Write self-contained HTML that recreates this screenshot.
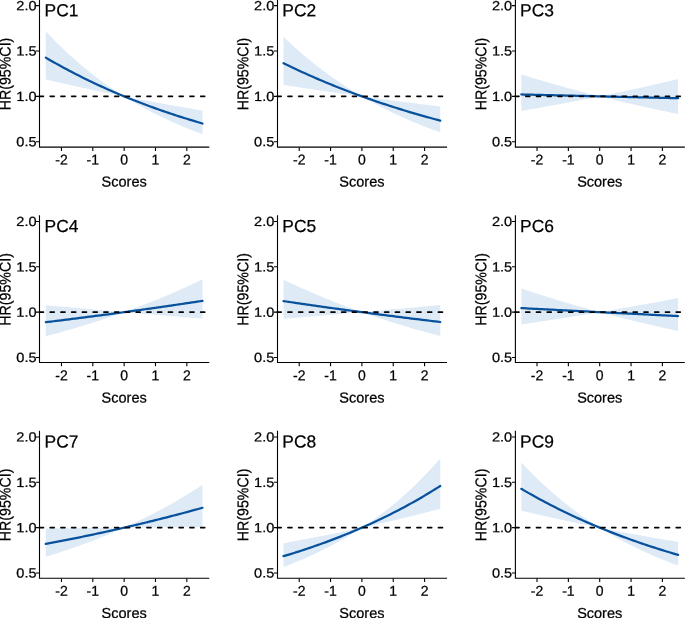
<!DOCTYPE html>
<html><head><meta charset="utf-8"><title>HR plots</title><style>
html,body{margin:0;padding:0;background:#fff;width:685px;height:618px;overflow:hidden}
svg{display:block;font-family:"Liberation Sans",sans-serif;will-change:transform}
text{fill:#000;stroke:#000;stroke-width:0.25px;font-kerning:none}
</style></head><body>
<svg width="685" height="618" viewBox="0 0 685 618">
<g fill="#000" stroke="none">
<polygon points="45.8,31.33 48.41,34.11 51.02,36.84 53.64,39.52 56.25,42.16 58.86,44.74 61.47,47.29 64.08,49.78 66.69,52.23 69.31,54.64 71.92,57 74.53,59.33 77.14,61.61 79.75,63.85 82.36,66.05 84.98,68.21 87.59,70.33 90.2,72.41 92.81,74.46 95.42,76.47 98.03,78.44 100.65,80.38 103.26,82.29 105.87,84.16 108.48,86 111.09,87.8 113.7,89.57 116.32,91.31 118.93,93.02 121.54,94.7 124.15,96.35 126.76,96.86 129.37,97.38 131.99,97.88 134.6,98.39 137.21,98.89 139.82,99.39 142.43,99.89 145.04,100.38 147.66,100.87 150.27,101.36 152.88,101.85 155.49,102.33 158.1,102.81 160.71,103.29 163.32,103.76 165.94,104.23 168.55,104.7 171.16,105.17 173.77,105.63 176.38,106.1 179,106.55 181.61,107.01 184.22,107.46 186.83,107.91 189.44,108.36 192.05,108.81 194.67,109.25 197.28,109.69 199.89,110.13 202.5,110.57 202.5,134.22 199.89,133.26 197.28,132.28 194.67,131.29 192.05,130.27 189.44,129.24 186.83,128.19 184.22,127.12 181.61,126.03 179,124.92 176.38,123.79 173.77,122.64 171.16,121.47 168.55,120.28 165.94,119.06 163.32,117.83 160.71,116.57 158.1,115.29 155.49,113.98 152.88,112.66 150.27,111.3 147.66,109.93 145.04,108.52 142.43,107.1 139.82,105.64 137.21,104.16 134.6,102.66 131.99,101.12 129.37,99.56 126.76,97.97 124.15,96.35 121.54,95.83 118.93,95.31 116.32,94.79 113.7,94.26 111.09,93.74 108.48,93.2 105.87,92.67 103.26,92.13 100.65,91.59 98.03,91.05 95.42,90.5 92.81,89.95 90.2,89.4 87.59,88.84 84.98,88.28 82.36,87.72 79.75,87.15 77.14,86.58 74.53,86.01 71.92,85.43 69.31,84.85 66.69,84.27 64.08,83.68 61.47,83.1 58.86,82.5 56.25,81.91 53.64,81.31 51.02,80.7 48.41,80.1 45.8,79.49" fill="#DEEBF7"/>
<polyline points="45.8,57.63 48.41,59.16 51.02,60.66 53.64,62.15 56.25,63.62 58.86,65.08 61.47,66.51 64.08,67.93 66.69,69.34 69.31,70.72 71.92,72.09 74.53,73.45 77.14,74.79 79.75,76.11 82.36,77.41 84.98,78.71 87.59,79.98 90.2,81.24 92.81,82.49 95.42,83.72 98.03,84.94 100.65,86.14 103.26,87.33 105.87,88.51 108.48,89.67 111.09,90.81 113.7,91.95 116.32,93.07 118.93,94.17 121.54,95.27 124.15,96.35 126.76,97.42 129.37,98.47 131.99,99.52 134.6,100.55 137.21,101.57 139.82,102.57 142.43,103.57 145.04,104.55 147.66,105.53 150.27,106.49 152.88,107.43 155.49,108.37 158.1,109.3 160.71,110.22 163.32,111.12 165.94,112.01 168.55,112.9 171.16,113.77 173.77,114.64 176.38,115.49 179,116.33 181.61,117.16 184.22,117.99 186.83,118.8 189.44,119.61 192.05,120.4 194.67,121.18 197.28,121.96 199.89,122.73 202.5,123.49" fill="none" stroke="#08519C" stroke-width="2.25" stroke-linejoin="round" stroke-linecap="round"/>
<line x1="39.4" y1="96.35" x2="209.3" y2="96.35" stroke="#000" stroke-width="1.6" stroke-dasharray="4.1 6.65" stroke-linecap="round"/>
<path d="M39.5 -0.6V147.15H209.3" fill="none" stroke="#000" stroke-width="1.1"/>
<text transform="translate(36.6 146.28) scale(1.04 0.95)" font-size="14" text-anchor="end" textLength="19.46" rotate="0.05">0.5</text>
<text transform="translate(36.6 100.93) scale(1.04 0.95)" font-size="14" text-anchor="end" textLength="19.46" rotate="0.05">1.0</text>
<text transform="translate(36.6 55.58) scale(1.04 0.95)" font-size="14" text-anchor="end" textLength="19.46" rotate="0.05">1.5</text>
<text transform="translate(36.6 10.23) scale(1.04 0.95)" font-size="14" text-anchor="end" textLength="19.46" rotate="0.05">2.0</text>
<text transform="translate(61.47 164.52) scale(1 1.02)" font-size="14" text-anchor="middle" textLength="12.45" rotate="0.05">-2</text>
<text transform="translate(92.81 164.52) scale(1 1.02)" font-size="14" text-anchor="middle" textLength="12.45" rotate="0.05">-1</text>
<text transform="translate(124.15 164.52) scale(1 1.02)" font-size="14" text-anchor="middle" textLength="7.79" rotate="0.05">0</text>
<text transform="translate(155.49 164.52) scale(1 1.02)" font-size="14" text-anchor="middle" textLength="7.79" rotate="0.05">1</text>
<text transform="translate(186.83 164.52) scale(1 1.02)" font-size="14" text-anchor="middle" textLength="7.79" rotate="0.05">2</text>
<path d="M36 141.7H39.5M36 96.35H39.5M36 51H39.5M36 5.65H39.5M61.47 147.15V150.95M92.81 147.15V150.95M124.15 147.15V150.95M155.49 147.15V150.95M186.83 147.15V150.95" stroke="#000" stroke-width="1.1"/>
<text transform="translate(124.15 186.6)" font-size="14.5" text-anchor="middle" textLength="45.13" rotate="0.05">Scores</text>
<text transform="translate(10.4 74) rotate(-90) scale(0.98 1.07)" font-size="14.5" text-anchor="middle" textLength="74.12" rotate="0.05">HR(95%CI)</text>
<text transform="translate(44.57 16.2)" font-size="17.4" textLength="33.85" rotate="0.05">PC1</text>
<polygon points="283.55,36.87 286.16,39.38 288.77,41.84 291.38,44.26 294,46.64 296.61,48.98 299.22,51.28 301.83,53.54 304.44,55.77 307.05,57.96 309.67,60.11 312.28,62.22 314.89,64.31 317.5,66.35 320.11,68.36 322.72,70.34 325.34,72.29 327.95,74.2 330.56,76.08 333.17,77.93 335.78,79.75 338.39,81.54 341.01,83.3 343.62,85.03 346.23,86.73 348.84,88.4 351.45,90.04 354.06,91.66 356.68,93.25 359.29,94.81 361.9,96.35 364.51,96.71 367.12,97.06 369.73,97.42 372.35,97.77 374.96,98.12 377.57,98.47 380.18,98.82 382.79,99.17 385.4,99.51 388.02,99.86 390.63,100.2 393.24,100.54 395.85,100.88 398.46,101.22 401.07,101.56 403.69,101.89 406.3,102.23 408.91,102.56 411.52,102.89 414.13,103.23 416.75,103.56 419.36,103.88 421.97,104.21 424.58,104.54 427.19,104.86 429.8,105.18 432.41,105.51 435.03,105.83 437.64,106.15 440.25,106.47 440.25,132.27 437.64,131.34 435.03,130.4 432.41,129.44 429.8,128.46 427.19,127.47 424.58,126.46 421.97,125.43 419.36,124.39 416.75,123.32 414.13,122.24 411.52,121.15 408.91,120.03 406.3,118.89 403.69,117.74 401.07,116.56 398.46,115.37 395.85,114.15 393.24,112.92 390.63,111.66 388.02,110.38 385.4,109.08 382.79,107.76 380.18,106.42 377.57,105.05 374.96,103.66 372.35,102.25 369.73,100.81 367.12,99.35 364.51,97.86 361.9,96.35 359.29,95.99 356.68,95.63 354.06,95.27 351.45,94.91 348.84,94.54 346.23,94.18 343.62,93.81 341.01,93.44 338.39,93.07 335.78,92.7 333.17,92.33 330.56,91.96 327.95,91.58 325.34,91.2 322.72,90.83 320.11,90.45 317.5,90.06 314.89,89.68 312.28,89.3 309.67,88.91 307.05,88.52 304.44,88.13 301.83,87.74 299.22,87.35 296.61,86.96 294,86.56 291.38,86.16 288.77,85.77 286.16,85.37 283.55,84.96" fill="#DEEBF7"/>
<polyline points="283.55,63.23 286.16,64.51 288.77,65.78 291.38,67.03 294,68.27 296.61,69.49 299.22,70.71 301.83,71.91 304.44,73.09 307.05,74.27 309.67,75.43 312.28,76.59 314.89,77.73 317.5,78.86 320.11,79.97 322.72,81.08 325.34,82.17 327.95,83.25 330.56,84.32 333.17,85.39 335.78,86.43 338.39,87.47 341.01,88.5 343.62,89.52 346.23,90.52 348.84,91.52 351.45,92.51 354.06,93.48 356.68,94.45 359.29,95.4 361.9,96.35 364.51,97.29 367.12,98.21 369.73,99.13 372.35,100.04 374.96,100.94 377.57,101.82 380.18,102.7 382.79,103.57 385.4,104.44 388.02,105.29 390.63,106.13 393.24,106.97 395.85,107.79 398.46,108.61 401.07,109.42 403.69,110.22 406.3,111.02 408.91,111.8 411.52,112.58 414.13,113.35 416.75,114.11 419.36,114.86 421.97,115.6 424.58,116.34 427.19,117.07 429.8,117.79 432.41,118.51 435.03,119.22 437.64,119.92 440.25,120.61" fill="none" stroke="#08519C" stroke-width="2.25" stroke-linejoin="round" stroke-linecap="round"/>
<line x1="277.15" y1="96.35" x2="447.05" y2="96.35" stroke="#000" stroke-width="1.6" stroke-dasharray="4.1 6.65" stroke-linecap="round"/>
<path d="M277.5 -0.6V147.15H447.05" fill="none" stroke="#000" stroke-width="1.1"/>
<text transform="translate(274.35 146.28) scale(1.04 0.95)" font-size="14" text-anchor="end" textLength="19.46" rotate="0.05">0.5</text>
<text transform="translate(274.35 100.93) scale(1.04 0.95)" font-size="14" text-anchor="end" textLength="19.46" rotate="0.05">1.0</text>
<text transform="translate(274.35 55.58) scale(1.04 0.95)" font-size="14" text-anchor="end" textLength="19.46" rotate="0.05">1.5</text>
<text transform="translate(274.35 10.23) scale(1.04 0.95)" font-size="14" text-anchor="end" textLength="19.46" rotate="0.05">2.0</text>
<text transform="translate(299.22 164.52) scale(1 1.02)" font-size="14" text-anchor="middle" textLength="12.45" rotate="0.05">-2</text>
<text transform="translate(330.56 164.52) scale(1 1.02)" font-size="14" text-anchor="middle" textLength="12.45" rotate="0.05">-1</text>
<text transform="translate(361.9 164.52) scale(1 1.02)" font-size="14" text-anchor="middle" textLength="7.79" rotate="0.05">0</text>
<text transform="translate(393.24 164.52) scale(1 1.02)" font-size="14" text-anchor="middle" textLength="7.79" rotate="0.05">1</text>
<text transform="translate(424.58 164.52) scale(1 1.02)" font-size="14" text-anchor="middle" textLength="7.79" rotate="0.05">2</text>
<path d="M274 141.7H277.5M274 96.35H277.5M274 51H277.5M274 5.65H277.5M299.22 147.15V150.95M330.56 147.15V150.95M361.9 147.15V150.95M393.24 147.15V150.95M424.58 147.15V150.95" stroke="#000" stroke-width="1.1"/>
<text transform="translate(361.9 186.6)" font-size="14.5" text-anchor="middle" textLength="45.13" rotate="0.05">Scores</text>
<text transform="translate(248.15 74) rotate(-90) scale(0.98 1.07)" font-size="14.5" text-anchor="middle" textLength="74.12" rotate="0.05">HR(95%CI)</text>
<text transform="translate(282.32 16.2)" font-size="17.4" textLength="33.85" rotate="0.05">PC2</text>
<polygon points="521.35,74.45 523.96,75.26 526.57,76.07 529.19,76.86 531.8,77.65 534.41,78.44 537.02,79.22 539.63,79.99 542.24,80.76 544.86,81.53 547.47,82.28 550.08,83.04 552.69,83.78 555.3,84.53 557.91,85.26 560.53,85.99 563.14,86.72 565.75,87.44 568.36,88.16 570.97,88.87 573.58,89.57 576.2,90.27 578.81,90.97 581.42,91.66 584.03,92.34 586.64,93.02 589.25,93.7 591.87,94.37 594.48,95.03 597.09,95.69 599.7,96.35 602.31,95.82 604.92,95.29 607.54,94.75 610.15,94.21 612.76,93.67 615.37,93.12 617.98,92.58 620.59,92.02 623.21,91.47 625.82,90.91 628.43,90.35 631.04,89.78 633.65,89.22 636.26,88.64 638.88,88.07 641.49,87.49 644.1,86.91 646.71,86.32 649.32,85.74 651.93,85.14 654.55,84.55 657.16,83.95 659.77,83.35 662.38,82.74 664.99,82.13 667.6,81.52 670.22,80.9 672.83,80.28 675.44,79.66 678.05,79.03 678.05,113.99 675.44,113.46 672.83,112.93 670.22,112.39 667.6,111.85 664.99,111.31 662.38,110.76 659.77,110.21 657.16,109.65 654.55,109.09 651.93,108.53 649.32,107.96 646.71,107.39 644.1,106.81 641.49,106.23 638.88,105.65 636.26,105.06 633.65,104.46 631.04,103.87 628.43,103.26 625.82,102.66 623.21,102.05 620.59,101.43 617.98,100.81 615.37,100.19 612.76,99.56 610.15,98.93 607.54,98.29 604.92,97.65 602.31,97 599.7,96.35 597.09,96.88 594.48,97.4 591.87,97.92 589.25,98.44 586.64,98.95 584.03,99.47 581.42,99.97 578.81,100.48 576.2,100.98 573.58,101.48 570.97,101.98 568.36,102.47 565.75,102.96 563.14,103.45 560.53,103.94 557.91,104.42 555.3,104.9 552.69,105.38 550.08,105.85 547.47,106.32 544.86,106.79 542.24,107.26 539.63,107.72 537.02,108.18 534.41,108.64 531.8,109.1 529.19,109.55 526.57,110 523.96,110.45 521.35,110.89" fill="#DEEBF7"/>
<polyline points="521.35,94.45 523.96,94.51 526.57,94.58 529.19,94.64 531.8,94.7 534.41,94.77 537.02,94.83 539.63,94.9 542.24,94.96 544.86,95.02 547.47,95.09 550.08,95.15 552.69,95.21 555.3,95.28 557.91,95.34 560.53,95.4 563.14,95.47 565.75,95.53 568.36,95.59 570.97,95.66 573.58,95.72 576.2,95.78 578.81,95.85 581.42,95.91 584.03,95.97 586.64,96.04 589.25,96.1 591.87,96.16 594.48,96.22 597.09,96.29 599.7,96.35 602.31,96.41 604.92,96.48 607.54,96.54 610.15,96.6 612.76,96.66 615.37,96.73 617.98,96.79 620.59,96.85 623.21,96.91 625.82,96.98 628.43,97.04 631.04,97.1 633.65,97.16 636.26,97.22 638.88,97.29 641.49,97.35 644.1,97.41 646.71,97.47 649.32,97.53 651.93,97.6 654.55,97.66 657.16,97.72 659.77,97.78 662.38,97.84 664.99,97.9 667.6,97.97 670.22,98.03 672.83,98.09 675.44,98.15 678.05,98.21" fill="none" stroke="#08519C" stroke-width="2.25" stroke-linejoin="round" stroke-linecap="round"/>
<line x1="514.95" y1="96.35" x2="684.85" y2="96.35" stroke="#000" stroke-width="1.6" stroke-dasharray="4.1 6.65" stroke-linecap="round"/>
<path d="M515.4 -0.6V147.15H684.85" fill="none" stroke="#000" stroke-width="1.1"/>
<text transform="translate(512.15 146.28) scale(1.04 0.95)" font-size="14" text-anchor="end" textLength="19.46" rotate="0.05">0.5</text>
<text transform="translate(512.15 100.93) scale(1.04 0.95)" font-size="14" text-anchor="end" textLength="19.46" rotate="0.05">1.0</text>
<text transform="translate(512.15 55.58) scale(1.04 0.95)" font-size="14" text-anchor="end" textLength="19.46" rotate="0.05">1.5</text>
<text transform="translate(512.15 10.23) scale(1.04 0.95)" font-size="14" text-anchor="end" textLength="19.46" rotate="0.05">2.0</text>
<text transform="translate(537.02 164.52) scale(1 1.02)" font-size="14" text-anchor="middle" textLength="12.45" rotate="0.05">-2</text>
<text transform="translate(568.36 164.52) scale(1 1.02)" font-size="14" text-anchor="middle" textLength="12.45" rotate="0.05">-1</text>
<text transform="translate(599.7 164.52) scale(1 1.02)" font-size="14" text-anchor="middle" textLength="7.79" rotate="0.05">0</text>
<text transform="translate(631.04 164.52) scale(1 1.02)" font-size="14" text-anchor="middle" textLength="7.79" rotate="0.05">1</text>
<text transform="translate(662.38 164.52) scale(1 1.02)" font-size="14" text-anchor="middle" textLength="7.79" rotate="0.05">2</text>
<path d="M511.9 141.7H515.4M511.9 96.35H515.4M511.9 51H515.4M511.9 5.65H515.4M537.02 147.15V150.95M568.36 147.15V150.95M599.7 147.15V150.95M631.04 147.15V150.95M662.38 147.15V150.95" stroke="#000" stroke-width="1.1"/>
<text transform="translate(599.7 186.6)" font-size="14.5" text-anchor="middle" textLength="45.13" rotate="0.05">Scores</text>
<text transform="translate(486.15 74) rotate(-90) scale(0.98 1.07)" font-size="14.5" text-anchor="middle" textLength="74.12" rotate="0.05">HR(95%CI)</text>
<text transform="translate(520.12 16.2)" font-size="17.4" textLength="33.85" rotate="0.05">PC3</text>
<polygon points="45.8,305.21 48.41,305.45 51.02,305.69 53.64,305.93 56.25,306.16 58.86,306.4 61.47,306.64 64.08,306.87 66.69,307.11 69.31,307.34 71.92,307.58 74.53,307.81 77.14,308.05 79.75,308.28 82.36,308.51 84.98,308.74 87.59,308.97 90.2,309.2 92.81,309.43 95.42,309.66 98.03,309.89 100.65,310.12 103.26,310.35 105.87,310.58 108.48,310.8 111.09,311.03 113.7,311.25 116.32,311.48 118.93,311.7 121.54,311.93 124.15,312.15 126.76,311.21 129.37,310.26 131.99,309.31 134.6,308.34 137.21,307.36 139.82,306.37 142.43,305.37 145.04,304.37 147.66,303.35 150.27,302.32 152.88,301.28 155.49,300.23 158.1,299.17 160.71,298.09 163.32,297.01 165.94,295.91 168.55,294.81 171.16,293.69 173.77,292.56 176.38,291.42 179,290.27 181.61,289.1 184.22,287.93 186.83,286.74 189.44,285.54 192.05,284.32 194.67,283.1 197.28,281.86 199.89,280.61 202.5,279.34 202.5,318.6 199.89,318.39 197.28,318.18 194.67,317.97 192.05,317.77 189.44,317.56 186.83,317.35 184.22,317.14 181.61,316.93 179,316.71 176.38,316.5 173.77,316.29 171.16,316.08 168.55,315.86 165.94,315.65 163.32,315.43 160.71,315.22 158.1,315 155.49,314.79 152.88,314.57 150.27,314.35 147.66,314.13 145.04,313.92 142.43,313.7 139.82,313.48 137.21,313.26 134.6,313.04 131.99,312.82 129.37,312.59 126.76,312.37 124.15,312.15 121.54,313.08 118.93,314 116.32,314.91 113.7,315.81 111.09,316.7 108.48,317.58 105.87,318.45 103.26,319.32 100.65,320.17 98.03,321.02 95.42,321.86 92.81,322.69 90.2,323.51 87.59,324.32 84.98,325.12 82.36,325.92 79.75,326.71 77.14,327.49 74.53,328.26 71.92,329.02 69.31,329.78 66.69,330.53 64.08,331.27 61.47,332 58.86,332.73 56.25,333.44 53.64,334.15 51.02,334.86 48.41,335.55 45.8,336.24" fill="#DEEBF7"/>
<polyline points="45.8,322.2 48.41,321.89 51.02,321.57 53.64,321.25 56.25,320.93 58.86,320.61 61.47,320.29 64.08,319.96 66.69,319.64 69.31,319.31 71.92,318.98 74.53,318.65 77.14,318.32 79.75,317.99 82.36,317.66 84.98,317.33 87.59,316.99 90.2,316.65 92.81,316.31 95.42,315.97 98.03,315.63 100.65,315.29 103.26,314.95 105.87,314.6 108.48,314.26 111.09,313.91 113.7,313.56 116.32,313.21 118.93,312.86 121.54,312.5 124.15,312.15 126.76,311.79 129.37,311.44 131.99,311.08 134.6,310.72 137.21,310.36 139.82,309.99 142.43,309.63 145.04,309.26 147.66,308.9 150.27,308.53 152.88,308.16 155.49,307.79 158.1,307.41 160.71,307.04 163.32,306.66 165.94,306.28 168.55,305.91 171.16,305.52 173.77,305.14 176.38,304.76 179,304.37 181.61,303.99 184.22,303.6 186.83,303.21 189.44,302.82 192.05,302.43 194.67,302.03 197.28,301.64 199.89,301.24 202.5,300.84" fill="none" stroke="#08519C" stroke-width="2.25" stroke-linejoin="round" stroke-linecap="round"/>
<line x1="39.4" y1="312.15" x2="209.3" y2="312.15" stroke="#000" stroke-width="1.6" stroke-dasharray="4.1 6.65" stroke-linecap="round"/>
<path d="M39.5 215.2V362.5H209.3" fill="none" stroke="#000" stroke-width="1.1"/>
<text transform="translate(36.6 362.08) scale(1.04 0.95)" font-size="14" text-anchor="end" textLength="19.46" rotate="0.05">0.5</text>
<text transform="translate(36.6 316.73) scale(1.04 0.95)" font-size="14" text-anchor="end" textLength="19.46" rotate="0.05">1.0</text>
<text transform="translate(36.6 271.38) scale(1.04 0.95)" font-size="14" text-anchor="end" textLength="19.46" rotate="0.05">1.5</text>
<text transform="translate(36.6 226.03) scale(1.04 0.95)" font-size="14" text-anchor="end" textLength="19.46" rotate="0.05">2.0</text>
<text transform="translate(61.47 380.32) scale(1 1.02)" font-size="14" text-anchor="middle" textLength="12.45" rotate="0.05">-2</text>
<text transform="translate(92.81 380.32) scale(1 1.02)" font-size="14" text-anchor="middle" textLength="12.45" rotate="0.05">-1</text>
<text transform="translate(124.15 380.32) scale(1 1.02)" font-size="14" text-anchor="middle" textLength="7.79" rotate="0.05">0</text>
<text transform="translate(155.49 380.32) scale(1 1.02)" font-size="14" text-anchor="middle" textLength="7.79" rotate="0.05">1</text>
<text transform="translate(186.83 380.32) scale(1 1.02)" font-size="14" text-anchor="middle" textLength="7.79" rotate="0.05">2</text>
<path d="M36 357.5H39.5M36 312.15H39.5M36 266.8H39.5M36 221.45H39.5M61.47 362.5V366.3M92.81 362.5V366.3M124.15 362.5V366.3M155.49 362.5V366.3M186.83 362.5V366.3" stroke="#000" stroke-width="1.1"/>
<text transform="translate(124.15 402.4)" font-size="14.5" text-anchor="middle" textLength="45.13" rotate="0.05">Scores</text>
<text transform="translate(10.4 289.45) rotate(-90) scale(0.98 1.07)" font-size="14.5" text-anchor="middle" textLength="74.12" rotate="0.05">HR(95%CI)</text>
<text transform="translate(44.57 232)" font-size="17.4" textLength="33.85" rotate="0.05">PC4</text>
<polygon points="283.55,279.68 286.16,280.93 288.77,282.17 291.38,283.39 294,284.61 296.61,285.81 299.22,286.99 301.83,288.17 304.44,289.33 307.05,290.48 309.67,291.62 312.28,292.75 314.89,293.87 317.5,294.98 320.11,296.07 322.72,297.16 325.34,298.23 327.95,299.29 330.56,300.34 333.17,301.38 335.78,302.41 338.39,303.43 341.01,304.44 343.62,305.44 346.23,306.43 348.84,307.4 351.45,308.37 354.06,309.33 356.68,310.28 359.29,311.22 361.9,312.15 364.51,311.92 367.12,311.69 369.73,311.46 372.35,311.23 374.96,310.99 377.57,310.76 380.18,310.53 382.79,310.29 385.4,310.06 388.02,309.82 390.63,309.59 393.24,309.35 395.85,309.11 398.46,308.88 401.07,308.64 403.69,308.4 406.3,308.16 408.91,307.92 411.52,307.68 414.13,307.44 416.75,307.19 419.36,306.95 421.97,306.71 424.58,306.46 427.19,306.22 429.8,305.97 432.41,305.73 435.03,305.48 437.64,305.24 440.25,304.99 440.25,336.06 437.64,335.37 435.03,334.68 432.41,333.98 429.8,333.28 427.19,332.57 424.58,331.84 421.97,331.12 419.36,330.38 416.75,329.64 414.13,328.89 411.52,328.13 408.91,327.36 406.3,326.59 403.69,325.81 401.07,325.02 398.46,324.22 395.85,323.41 393.24,322.6 390.63,321.78 388.02,320.95 385.4,320.11 382.79,319.26 380.18,318.4 377.57,317.53 374.96,316.66 372.35,315.78 369.73,314.88 367.12,313.98 364.51,313.07 361.9,312.15 359.29,312.38 356.68,312.61 354.06,312.84 351.45,313.06 348.84,313.29 346.23,313.52 343.62,313.74 341.01,313.97 338.39,314.19 335.78,314.42 333.17,314.64 330.56,314.87 327.95,315.09 325.34,315.31 322.72,315.53 320.11,315.75 317.5,315.97 314.89,316.19 312.28,316.41 309.67,316.63 307.05,316.85 304.44,317.07 301.83,317.28 299.22,317.5 296.61,317.72 294,317.93 291.38,318.15 288.77,318.36 286.16,318.57 283.55,318.79" fill="#DEEBF7"/>
<polyline points="283.55,301.1 286.16,301.49 288.77,301.87 291.38,302.26 294,302.64 296.61,303.03 299.22,303.41 301.83,303.79 304.44,304.17 307.05,304.55 309.67,304.92 312.28,305.3 314.89,305.67 317.5,306.04 320.11,306.41 322.72,306.78 325.34,307.15 327.95,307.52 330.56,307.88 333.17,308.24 335.78,308.61 338.39,308.97 341.01,309.33 343.62,309.68 346.23,310.04 348.84,310.39 351.45,310.75 354.06,311.1 356.68,311.45 359.29,311.8 361.9,312.15 364.51,312.5 367.12,312.84 369.73,313.19 372.35,313.53 374.96,313.87 377.57,314.21 380.18,314.55 382.79,314.89 385.4,315.23 388.02,315.56 390.63,315.9 393.24,316.23 395.85,316.56 398.46,316.89 401.07,317.22 403.69,317.55 406.3,317.87 408.91,318.2 411.52,318.52 414.13,318.84 416.75,319.17 419.36,319.49 421.97,319.8 424.58,320.12 427.19,320.44 429.8,320.75 432.41,321.07 435.03,321.38 437.64,321.69 440.25,322" fill="none" stroke="#08519C" stroke-width="2.25" stroke-linejoin="round" stroke-linecap="round"/>
<line x1="277.15" y1="312.15" x2="447.05" y2="312.15" stroke="#000" stroke-width="1.6" stroke-dasharray="4.1 6.65" stroke-linecap="round"/>
<path d="M277.5 215.2V362.5H447.05" fill="none" stroke="#000" stroke-width="1.1"/>
<text transform="translate(274.35 362.08) scale(1.04 0.95)" font-size="14" text-anchor="end" textLength="19.46" rotate="0.05">0.5</text>
<text transform="translate(274.35 316.73) scale(1.04 0.95)" font-size="14" text-anchor="end" textLength="19.46" rotate="0.05">1.0</text>
<text transform="translate(274.35 271.38) scale(1.04 0.95)" font-size="14" text-anchor="end" textLength="19.46" rotate="0.05">1.5</text>
<text transform="translate(274.35 226.03) scale(1.04 0.95)" font-size="14" text-anchor="end" textLength="19.46" rotate="0.05">2.0</text>
<text transform="translate(299.22 380.32) scale(1 1.02)" font-size="14" text-anchor="middle" textLength="12.45" rotate="0.05">-2</text>
<text transform="translate(330.56 380.32) scale(1 1.02)" font-size="14" text-anchor="middle" textLength="12.45" rotate="0.05">-1</text>
<text transform="translate(361.9 380.32) scale(1 1.02)" font-size="14" text-anchor="middle" textLength="7.79" rotate="0.05">0</text>
<text transform="translate(393.24 380.32) scale(1 1.02)" font-size="14" text-anchor="middle" textLength="7.79" rotate="0.05">1</text>
<text transform="translate(424.58 380.32) scale(1 1.02)" font-size="14" text-anchor="middle" textLength="7.79" rotate="0.05">2</text>
<path d="M274 357.5H277.5M274 312.15H277.5M274 266.8H277.5M274 221.45H277.5M299.22 362.5V366.3M330.56 362.5V366.3M361.9 362.5V366.3M393.24 362.5V366.3M424.58 362.5V366.3" stroke="#000" stroke-width="1.1"/>
<text transform="translate(361.9 402.4)" font-size="14.5" text-anchor="middle" textLength="45.13" rotate="0.05">Scores</text>
<text transform="translate(248.15 289.45) rotate(-90) scale(0.98 1.07)" font-size="14.5" text-anchor="middle" textLength="74.12" rotate="0.05">HR(95%CI)</text>
<text transform="translate(282.32 232)" font-size="17.4" textLength="33.85" rotate="0.05">PC5</text>
<polygon points="521.35,288.41 523.96,289.29 526.57,290.17 529.19,291.04 531.8,291.9 534.41,292.76 537.02,293.61 539.63,294.45 542.24,295.29 544.86,296.12 547.47,296.94 550.08,297.76 552.69,298.57 555.3,299.38 557.91,300.18 560.53,300.97 563.14,301.76 565.75,302.54 568.36,303.31 570.97,304.08 573.58,304.84 576.2,305.6 578.81,306.35 581.42,307.09 584.03,307.83 586.64,308.57 589.25,309.29 591.87,310.02 594.48,310.73 597.09,311.44 599.7,312.15 602.31,311.71 604.92,311.27 607.54,310.83 610.15,310.38 612.76,309.93 615.37,309.48 617.98,309.03 620.59,308.57 623.21,308.12 625.82,307.66 628.43,307.2 631.04,306.73 633.65,306.27 636.26,305.8 638.88,305.33 641.49,304.86 644.1,304.38 646.71,303.91 649.32,303.43 651.93,302.94 654.55,302.46 657.16,301.97 659.77,301.49 662.38,300.99 664.99,300.5 667.6,300 670.22,299.51 672.83,299.01 675.44,298.5 678.05,298 678.05,330.97 675.44,330.41 672.83,329.84 670.22,329.27 667.6,328.7 664.99,328.13 662.38,327.54 659.77,326.96 657.16,326.37 654.55,325.77 651.93,325.17 649.32,324.57 646.71,323.96 644.1,323.35 641.49,322.73 638.88,322.1 636.26,321.48 633.65,320.84 631.04,320.2 628.43,319.56 625.82,318.91 623.21,318.26 620.59,317.6 617.98,316.94 615.37,316.27 612.76,315.6 610.15,314.92 607.54,314.23 604.92,313.55 602.31,312.85 599.7,312.15 597.09,312.59 594.48,313.02 591.87,313.46 589.25,313.89 586.64,314.32 584.03,314.74 581.42,315.17 578.81,315.59 576.2,316.01 573.58,316.43 570.97,316.85 568.36,317.26 565.75,317.67 563.14,318.08 560.53,318.49 557.91,318.9 555.3,319.3 552.69,319.71 550.08,320.11 547.47,320.51 544.86,320.9 542.24,321.3 539.63,321.69 537.02,322.08 534.41,322.47 531.8,322.86 529.19,323.25 526.57,323.63 523.96,324.01 521.35,324.39" fill="#DEEBF7"/>
<polyline points="521.35,308.09 523.96,308.23 526.57,308.37 529.19,308.51 531.8,308.64 534.41,308.78 537.02,308.92 539.63,309.06 542.24,309.19 544.86,309.33 547.47,309.47 550.08,309.6 552.69,309.74 555.3,309.87 557.91,310.01 560.53,310.14 563.14,310.28 565.75,310.41 568.36,310.55 570.97,310.68 573.58,310.82 576.2,310.95 578.81,311.09 581.42,311.22 584.03,311.35 586.64,311.49 589.25,311.62 591.87,311.75 594.48,311.89 597.09,312.02 599.7,312.15 602.31,312.28 604.92,312.41 607.54,312.55 610.15,312.68 612.76,312.81 615.37,312.94 617.98,313.07 620.59,313.2 623.21,313.33 625.82,313.46 628.43,313.59 631.04,313.72 633.65,313.85 636.26,313.98 638.88,314.11 641.49,314.24 644.1,314.37 646.71,314.5 649.32,314.63 651.93,314.76 654.55,314.89 657.16,315.01 659.77,315.14 662.38,315.27 664.99,315.4 667.6,315.52 670.22,315.65 672.83,315.78 675.44,315.91 678.05,316.03" fill="none" stroke="#08519C" stroke-width="2.25" stroke-linejoin="round" stroke-linecap="round"/>
<line x1="514.95" y1="312.15" x2="684.85" y2="312.15" stroke="#000" stroke-width="1.6" stroke-dasharray="4.1 6.65" stroke-linecap="round"/>
<path d="M515.4 215.2V362.5H684.85" fill="none" stroke="#000" stroke-width="1.1"/>
<text transform="translate(512.15 362.08) scale(1.04 0.95)" font-size="14" text-anchor="end" textLength="19.46" rotate="0.05">0.5</text>
<text transform="translate(512.15 316.73) scale(1.04 0.95)" font-size="14" text-anchor="end" textLength="19.46" rotate="0.05">1.0</text>
<text transform="translate(512.15 271.38) scale(1.04 0.95)" font-size="14" text-anchor="end" textLength="19.46" rotate="0.05">1.5</text>
<text transform="translate(512.15 226.03) scale(1.04 0.95)" font-size="14" text-anchor="end" textLength="19.46" rotate="0.05">2.0</text>
<text transform="translate(537.02 380.32) scale(1 1.02)" font-size="14" text-anchor="middle" textLength="12.45" rotate="0.05">-2</text>
<text transform="translate(568.36 380.32) scale(1 1.02)" font-size="14" text-anchor="middle" textLength="12.45" rotate="0.05">-1</text>
<text transform="translate(599.7 380.32) scale(1 1.02)" font-size="14" text-anchor="middle" textLength="7.79" rotate="0.05">0</text>
<text transform="translate(631.04 380.32) scale(1 1.02)" font-size="14" text-anchor="middle" textLength="7.79" rotate="0.05">1</text>
<text transform="translate(662.38 380.32) scale(1 1.02)" font-size="14" text-anchor="middle" textLength="7.79" rotate="0.05">2</text>
<path d="M511.9 357.5H515.4M511.9 312.15H515.4M511.9 266.8H515.4M511.9 221.45H515.4M537.02 362.5V366.3M568.36 362.5V366.3M599.7 362.5V366.3M631.04 362.5V366.3M662.38 362.5V366.3" stroke="#000" stroke-width="1.1"/>
<text transform="translate(599.7 402.4)" font-size="14.5" text-anchor="middle" textLength="45.13" rotate="0.05">Scores</text>
<text transform="translate(486.15 289.45) rotate(-90) scale(0.98 1.07)" font-size="14.5" text-anchor="middle" textLength="74.12" rotate="0.05">HR(95%CI)</text>
<text transform="translate(520.12 232)" font-size="17.4" textLength="33.85" rotate="0.05">PC6</text>
<polygon points="45.8,528.42 48.41,528.39 51.02,528.37 53.64,528.34 56.25,528.32 58.86,528.29 61.47,528.26 64.08,528.24 66.69,528.21 69.31,528.19 71.92,528.16 74.53,528.14 77.14,528.11 79.75,528.09 82.36,528.06 84.98,528.03 87.59,528.01 90.2,527.98 92.81,527.96 95.42,527.93 98.03,527.91 100.65,527.88 103.26,527.86 105.87,527.83 108.48,527.8 111.09,527.78 113.7,527.75 116.32,527.73 118.93,527.7 121.54,527.68 124.15,527.65 126.76,526.47 129.37,525.28 131.99,524.07 134.6,522.84 137.21,521.6 139.82,520.34 142.43,519.07 145.04,517.78 147.66,516.47 150.27,515.14 152.88,513.8 155.49,512.44 158.1,511.07 160.71,509.67 163.32,508.26 165.94,506.83 168.55,505.38 171.16,503.91 173.77,502.42 176.38,500.91 179,499.39 181.61,497.84 184.22,496.27 186.83,494.69 189.44,493.08 192.05,491.45 194.67,489.8 197.28,488.13 199.89,486.44 202.5,484.72 202.5,526.88 199.89,526.9 197.28,526.93 194.67,526.95 192.05,526.98 189.44,527.01 186.83,527.03 184.22,527.06 181.61,527.08 179,527.11 176.38,527.13 173.77,527.16 171.16,527.19 168.55,527.21 165.94,527.24 163.32,527.26 160.71,527.29 158.1,527.32 155.49,527.34 152.88,527.37 150.27,527.39 147.66,527.42 145.04,527.44 142.43,527.47 139.82,527.5 137.21,527.52 134.6,527.55 131.99,527.57 129.37,527.6 126.76,527.62 124.15,527.65 121.54,528.81 118.93,529.96 116.32,531.1 113.7,532.22 111.09,533.32 108.48,534.41 105.87,535.49 103.26,536.55 100.65,537.6 98.03,538.64 95.42,539.66 92.81,540.67 90.2,541.67 87.59,542.65 84.98,543.63 82.36,544.58 79.75,545.53 77.14,546.47 74.53,547.39 71.92,548.3 69.31,549.2 66.69,550.09 64.08,550.96 61.47,551.83 58.86,552.68 56.25,553.52 53.64,554.35 51.02,555.18 48.41,555.99 45.8,556.79" fill="#DEEBF7"/>
<polyline points="45.8,543.94 48.41,543.45 51.02,542.95 53.64,542.45 56.25,541.95 58.86,541.45 61.47,540.94 64.08,540.42 66.69,539.91 69.31,539.39 71.92,538.87 74.53,538.34 77.14,537.81 79.75,537.28 82.36,536.74 84.98,536.2 87.59,535.66 90.2,535.11 92.81,534.56 95.42,534 98.03,533.44 100.65,532.88 103.26,532.31 105.87,531.75 108.48,531.17 111.09,530.59 113.7,530.01 116.32,529.43 118.93,528.84 121.54,528.25 124.15,527.65 126.76,527.05 129.37,526.44 131.99,525.84 134.6,525.22 137.21,524.61 139.82,523.99 142.43,523.36 145.04,522.73 147.66,522.1 150.27,521.46 152.88,520.82 155.49,520.17 158.1,519.52 160.71,518.87 163.32,518.21 165.94,517.55 168.55,516.88 171.16,516.21 173.77,515.53 176.38,514.85 179,514.17 181.61,513.48 184.22,512.78 186.83,512.08 189.44,511.38 192.05,510.67 194.67,509.96 197.28,509.24 199.89,508.52 202.5,507.79" fill="none" stroke="#08519C" stroke-width="2.25" stroke-linejoin="round" stroke-linecap="round"/>
<line x1="39.4" y1="527.65" x2="209.3" y2="527.65" stroke="#000" stroke-width="1.6" stroke-dasharray="4.1 6.65" stroke-linecap="round"/>
<path d="M39.5 430.7V578.25H209.3" fill="none" stroke="#000" stroke-width="1.1"/>
<text transform="translate(36.6 577.58) scale(1.04 0.95)" font-size="14" text-anchor="end" textLength="19.46" rotate="0.05">0.5</text>
<text transform="translate(36.6 532.23) scale(1.04 0.95)" font-size="14" text-anchor="end" textLength="19.46" rotate="0.05">1.0</text>
<text transform="translate(36.6 486.88) scale(1.04 0.95)" font-size="14" text-anchor="end" textLength="19.46" rotate="0.05">1.5</text>
<text transform="translate(36.6 441.53) scale(1.04 0.95)" font-size="14" text-anchor="end" textLength="19.46" rotate="0.05">2.0</text>
<text transform="translate(61.47 595.82) scale(1 1.02)" font-size="14" text-anchor="middle" textLength="12.45" rotate="0.05">-2</text>
<text transform="translate(92.81 595.82) scale(1 1.02)" font-size="14" text-anchor="middle" textLength="12.45" rotate="0.05">-1</text>
<text transform="translate(124.15 595.82) scale(1 1.02)" font-size="14" text-anchor="middle" textLength="7.79" rotate="0.05">0</text>
<text transform="translate(155.49 595.82) scale(1 1.02)" font-size="14" text-anchor="middle" textLength="7.79" rotate="0.05">1</text>
<text transform="translate(186.83 595.82) scale(1 1.02)" font-size="14" text-anchor="middle" textLength="7.79" rotate="0.05">2</text>
<path d="M36 573H39.5M36 527.65H39.5M36 482.3H39.5M36 436.95H39.5M61.47 578.25V582.05M92.81 578.25V582.05M124.15 578.25V582.05M155.49 578.25V582.05M186.83 578.25V582.05" stroke="#000" stroke-width="1.1"/>
<text transform="translate(124.15 617.9)" font-size="14.5" text-anchor="middle" textLength="45.13" rotate="0.05">Scores</text>
<text transform="translate(10.4 504.95) rotate(-90) scale(0.98 1.07)" font-size="14.5" text-anchor="middle" textLength="74.12" rotate="0.05">HR(95%CI)</text>
<text transform="translate(44.57 447.5)" font-size="17.4" textLength="33.85" rotate="0.05">PC7</text>
<polygon points="283.55,543.25 286.16,542.78 288.77,542.3 291.38,541.82 294,541.34 296.61,540.85 299.22,540.36 301.83,539.87 304.44,539.37 307.05,538.88 309.67,538.37 312.28,537.87 314.89,537.36 317.5,536.85 320.11,536.34 322.72,535.82 325.34,535.3 327.95,534.77 330.56,534.25 333.17,533.71 335.78,533.18 338.39,532.64 341.01,532.1 343.62,531.56 346.23,531.01 348.84,530.46 351.45,529.9 354.06,529.35 356.68,528.78 359.29,528.22 361.9,527.65 364.51,525.92 367.12,524.15 369.73,522.36 372.35,520.52 374.96,518.66 377.57,516.75 380.18,514.81 382.79,512.84 385.4,510.82 388.02,508.77 390.63,506.68 393.24,504.55 395.85,502.38 398.46,500.16 401.07,497.91 403.69,495.61 406.3,493.26 408.91,490.88 411.52,488.44 414.13,485.96 416.75,483.44 419.36,480.86 421.97,478.24 424.58,475.56 427.19,472.84 429.8,470.06 432.41,467.23 435.03,464.34 437.64,461.4 440.25,458.41 440.25,508.81 437.64,509.5 435.03,510.18 432.41,510.86 429.8,511.53 427.19,512.2 424.58,512.87 421.97,513.53 419.36,514.19 416.75,514.84 414.13,515.49 411.52,516.13 408.91,516.77 406.3,517.41 403.69,518.04 401.07,518.67 398.46,519.3 395.85,519.92 393.24,520.54 390.63,521.15 388.02,521.76 385.4,522.37 382.79,522.97 380.18,523.57 377.57,524.16 374.96,524.75 372.35,525.34 369.73,525.92 367.12,526.5 364.51,527.08 361.9,527.65 359.29,529.35 356.68,531.02 354.06,532.65 351.45,534.26 348.84,535.83 346.23,537.38 343.62,538.89 341.01,540.38 338.39,541.84 335.78,543.28 333.17,544.68 330.56,546.06 327.95,547.42 325.34,548.74 322.72,550.05 320.11,551.33 317.5,552.58 314.89,553.82 312.28,555.02 309.67,556.21 307.05,557.37 304.44,558.52 301.83,559.64 299.22,560.74 296.61,561.82 294,562.87 291.38,563.91 288.77,564.93 286.16,565.93 283.55,566.92" fill="#DEEBF7"/>
<polyline points="283.55,556.2 286.16,555.41 288.77,554.61 291.38,553.81 294,552.99 296.61,552.16 299.22,551.32 301.83,550.47 304.44,549.61 307.05,548.74 309.67,547.85 312.28,546.96 314.89,546.05 317.5,545.14 320.11,544.21 322.72,543.27 325.34,542.32 327.95,541.35 330.56,540.38 333.17,539.39 335.78,538.39 338.39,537.37 341.01,536.35 343.62,535.31 346.23,534.25 348.84,533.19 351.45,532.11 354.06,531.01 356.68,529.91 359.29,528.79 361.9,527.65 364.51,526.5 367.12,525.34 369.73,524.16 372.35,522.96 374.96,521.75 377.57,520.53 380.18,519.29 382.79,518.03 385.4,516.76 388.02,515.47 390.63,514.17 393.24,512.85 395.85,511.51 398.46,510.15 401.07,508.78 403.69,507.39 406.3,505.98 408.91,504.56 411.52,503.12 414.13,501.66 416.75,500.18 419.36,498.68 421.97,497.16 424.58,495.62 427.19,494.07 429.8,492.49 432.41,490.9 435.03,489.28 437.64,487.64 440.25,485.99" fill="none" stroke="#08519C" stroke-width="2.25" stroke-linejoin="round" stroke-linecap="round"/>
<line x1="277.15" y1="527.65" x2="447.05" y2="527.65" stroke="#000" stroke-width="1.6" stroke-dasharray="4.1 6.65" stroke-linecap="round"/>
<path d="M277.5 430.7V578.25H447.05" fill="none" stroke="#000" stroke-width="1.1"/>
<text transform="translate(274.35 577.58) scale(1.04 0.95)" font-size="14" text-anchor="end" textLength="19.46" rotate="0.05">0.5</text>
<text transform="translate(274.35 532.23) scale(1.04 0.95)" font-size="14" text-anchor="end" textLength="19.46" rotate="0.05">1.0</text>
<text transform="translate(274.35 486.88) scale(1.04 0.95)" font-size="14" text-anchor="end" textLength="19.46" rotate="0.05">1.5</text>
<text transform="translate(274.35 441.53) scale(1.04 0.95)" font-size="14" text-anchor="end" textLength="19.46" rotate="0.05">2.0</text>
<text transform="translate(299.22 595.82) scale(1 1.02)" font-size="14" text-anchor="middle" textLength="12.45" rotate="0.05">-2</text>
<text transform="translate(330.56 595.82) scale(1 1.02)" font-size="14" text-anchor="middle" textLength="12.45" rotate="0.05">-1</text>
<text transform="translate(361.9 595.82) scale(1 1.02)" font-size="14" text-anchor="middle" textLength="7.79" rotate="0.05">0</text>
<text transform="translate(393.24 595.82) scale(1 1.02)" font-size="14" text-anchor="middle" textLength="7.79" rotate="0.05">1</text>
<text transform="translate(424.58 595.82) scale(1 1.02)" font-size="14" text-anchor="middle" textLength="7.79" rotate="0.05">2</text>
<path d="M274 573H277.5M274 527.65H277.5M274 482.3H277.5M274 436.95H277.5M299.22 578.25V582.05M330.56 578.25V582.05M361.9 578.25V582.05M393.24 578.25V582.05M424.58 578.25V582.05" stroke="#000" stroke-width="1.1"/>
<text transform="translate(361.9 617.9)" font-size="14.5" text-anchor="middle" textLength="45.13" rotate="0.05">Scores</text>
<text transform="translate(248.15 504.95) rotate(-90) scale(0.98 1.07)" font-size="14.5" text-anchor="middle" textLength="74.12" rotate="0.05">HR(95%CI)</text>
<text transform="translate(282.32 447.5)" font-size="17.4" textLength="33.85" rotate="0.05">PC8</text>
<polygon points="521.35,462.47 523.96,465.26 526.57,468 529.19,470.69 531.8,473.33 534.41,475.93 537.02,478.47 539.63,480.98 542.24,483.43 544.86,485.85 547.47,488.22 550.08,490.54 552.69,492.83 555.3,495.08 557.91,497.28 560.53,499.45 563.14,501.57 565.75,503.66 568.36,505.71 570.97,507.73 573.58,509.71 576.2,511.65 578.81,513.56 581.42,515.43 584.03,517.28 586.64,519.08 589.25,520.86 591.87,522.6 594.48,524.32 597.09,526 599.7,527.65 602.31,528.17 604.92,528.68 607.54,529.19 610.15,529.69 612.76,530.2 615.37,530.7 617.98,531.2 620.59,531.69 623.21,532.19 625.82,532.68 628.43,533.16 631.04,533.65 633.65,534.13 636.26,534.61 638.88,535.08 641.49,535.56 644.1,536.03 646.71,536.49 649.32,536.96 651.93,537.42 654.55,537.88 657.16,538.34 659.77,538.79 662.38,539.25 664.99,539.7 667.6,540.14 670.22,540.59 672.83,541.03 675.44,541.47 678.05,541.91 678.05,565.57 675.44,564.61 672.83,563.63 670.22,562.64 667.6,561.62 664.99,560.59 662.38,559.54 659.77,558.47 657.16,557.38 654.55,556.26 651.93,555.13 649.32,553.98 646.71,552.81 644.1,551.62 641.49,550.4 638.88,549.16 636.26,547.9 633.65,546.62 631.04,545.31 628.43,543.98 625.82,542.63 623.21,541.25 620.59,539.85 617.98,538.42 615.37,536.96 612.76,535.48 610.15,533.97 607.54,532.43 604.92,530.87 602.31,529.27 599.7,527.65 597.09,527.13 594.48,526.61 591.87,526.09 589.25,525.56 586.64,525.03 584.03,524.49 581.42,523.96 578.81,523.42 576.2,522.88 573.58,522.33 570.97,521.78 568.36,521.23 565.75,520.67 563.14,520.12 560.53,519.55 557.91,518.99 555.3,518.42 552.69,517.85 550.08,517.28 547.47,516.7 544.86,516.12 542.24,515.53 539.63,514.94 537.02,514.35 534.41,513.76 531.8,513.16 529.19,512.56 526.57,511.96 523.96,511.35 521.35,510.74" fill="#DEEBF7"/>
<polyline points="521.35,488.83 523.96,490.36 526.57,491.87 529.19,493.37 531.8,494.84 534.41,496.3 537.02,497.74 539.63,499.16 542.24,500.57 544.86,501.96 547.47,503.34 550.08,504.69 552.69,506.04 555.3,507.36 557.91,508.67 560.53,509.97 563.14,511.25 565.75,512.51 568.36,513.76 570.97,514.99 573.58,516.21 576.2,517.42 578.81,518.61 581.42,519.79 584.03,520.95 586.64,522.1 589.25,523.24 591.87,524.36 594.48,525.47 597.09,526.57 599.7,527.65 602.31,528.72 604.92,529.78 607.54,530.82 610.15,531.86 612.76,532.88 615.37,533.89 617.98,534.88 620.59,535.87 623.21,536.84 625.82,537.81 628.43,538.76 631.04,539.7 633.65,540.62 636.26,541.54 638.88,542.45 641.49,543.34 644.1,544.23 646.71,545.11 649.32,545.97 651.93,546.82 654.55,547.67 657.16,548.5 659.77,549.33 662.38,550.14 664.99,550.95 667.6,551.74 670.22,552.53 672.83,553.31 675.44,554.07 678.05,554.83" fill="none" stroke="#08519C" stroke-width="2.25" stroke-linejoin="round" stroke-linecap="round"/>
<line x1="514.95" y1="527.65" x2="684.85" y2="527.65" stroke="#000" stroke-width="1.6" stroke-dasharray="4.1 6.65" stroke-linecap="round"/>
<path d="M515.4 430.7V578.25H684.85" fill="none" stroke="#000" stroke-width="1.1"/>
<text transform="translate(512.15 577.58) scale(1.04 0.95)" font-size="14" text-anchor="end" textLength="19.46" rotate="0.05">0.5</text>
<text transform="translate(512.15 532.23) scale(1.04 0.95)" font-size="14" text-anchor="end" textLength="19.46" rotate="0.05">1.0</text>
<text transform="translate(512.15 486.88) scale(1.04 0.95)" font-size="14" text-anchor="end" textLength="19.46" rotate="0.05">1.5</text>
<text transform="translate(512.15 441.53) scale(1.04 0.95)" font-size="14" text-anchor="end" textLength="19.46" rotate="0.05">2.0</text>
<text transform="translate(537.02 595.82) scale(1 1.02)" font-size="14" text-anchor="middle" textLength="12.45" rotate="0.05">-2</text>
<text transform="translate(568.36 595.82) scale(1 1.02)" font-size="14" text-anchor="middle" textLength="12.45" rotate="0.05">-1</text>
<text transform="translate(599.7 595.82) scale(1 1.02)" font-size="14" text-anchor="middle" textLength="7.79" rotate="0.05">0</text>
<text transform="translate(631.04 595.82) scale(1 1.02)" font-size="14" text-anchor="middle" textLength="7.79" rotate="0.05">1</text>
<text transform="translate(662.38 595.82) scale(1 1.02)" font-size="14" text-anchor="middle" textLength="7.79" rotate="0.05">2</text>
<path d="M511.9 573H515.4M511.9 527.65H515.4M511.9 482.3H515.4M511.9 436.95H515.4M537.02 578.25V582.05M568.36 578.25V582.05M599.7 578.25V582.05M631.04 578.25V582.05M662.38 578.25V582.05" stroke="#000" stroke-width="1.1"/>
<text transform="translate(599.7 617.9)" font-size="14.5" text-anchor="middle" textLength="45.13" rotate="0.05">Scores</text>
<text transform="translate(486.15 504.95) rotate(-90) scale(0.98 1.07)" font-size="14.5" text-anchor="middle" textLength="74.12" rotate="0.05">HR(95%CI)</text>
<text transform="translate(520.12 447.5)" font-size="17.4" textLength="33.85" rotate="0.05">PC9</text>
</g>
</svg>
</body></html>
